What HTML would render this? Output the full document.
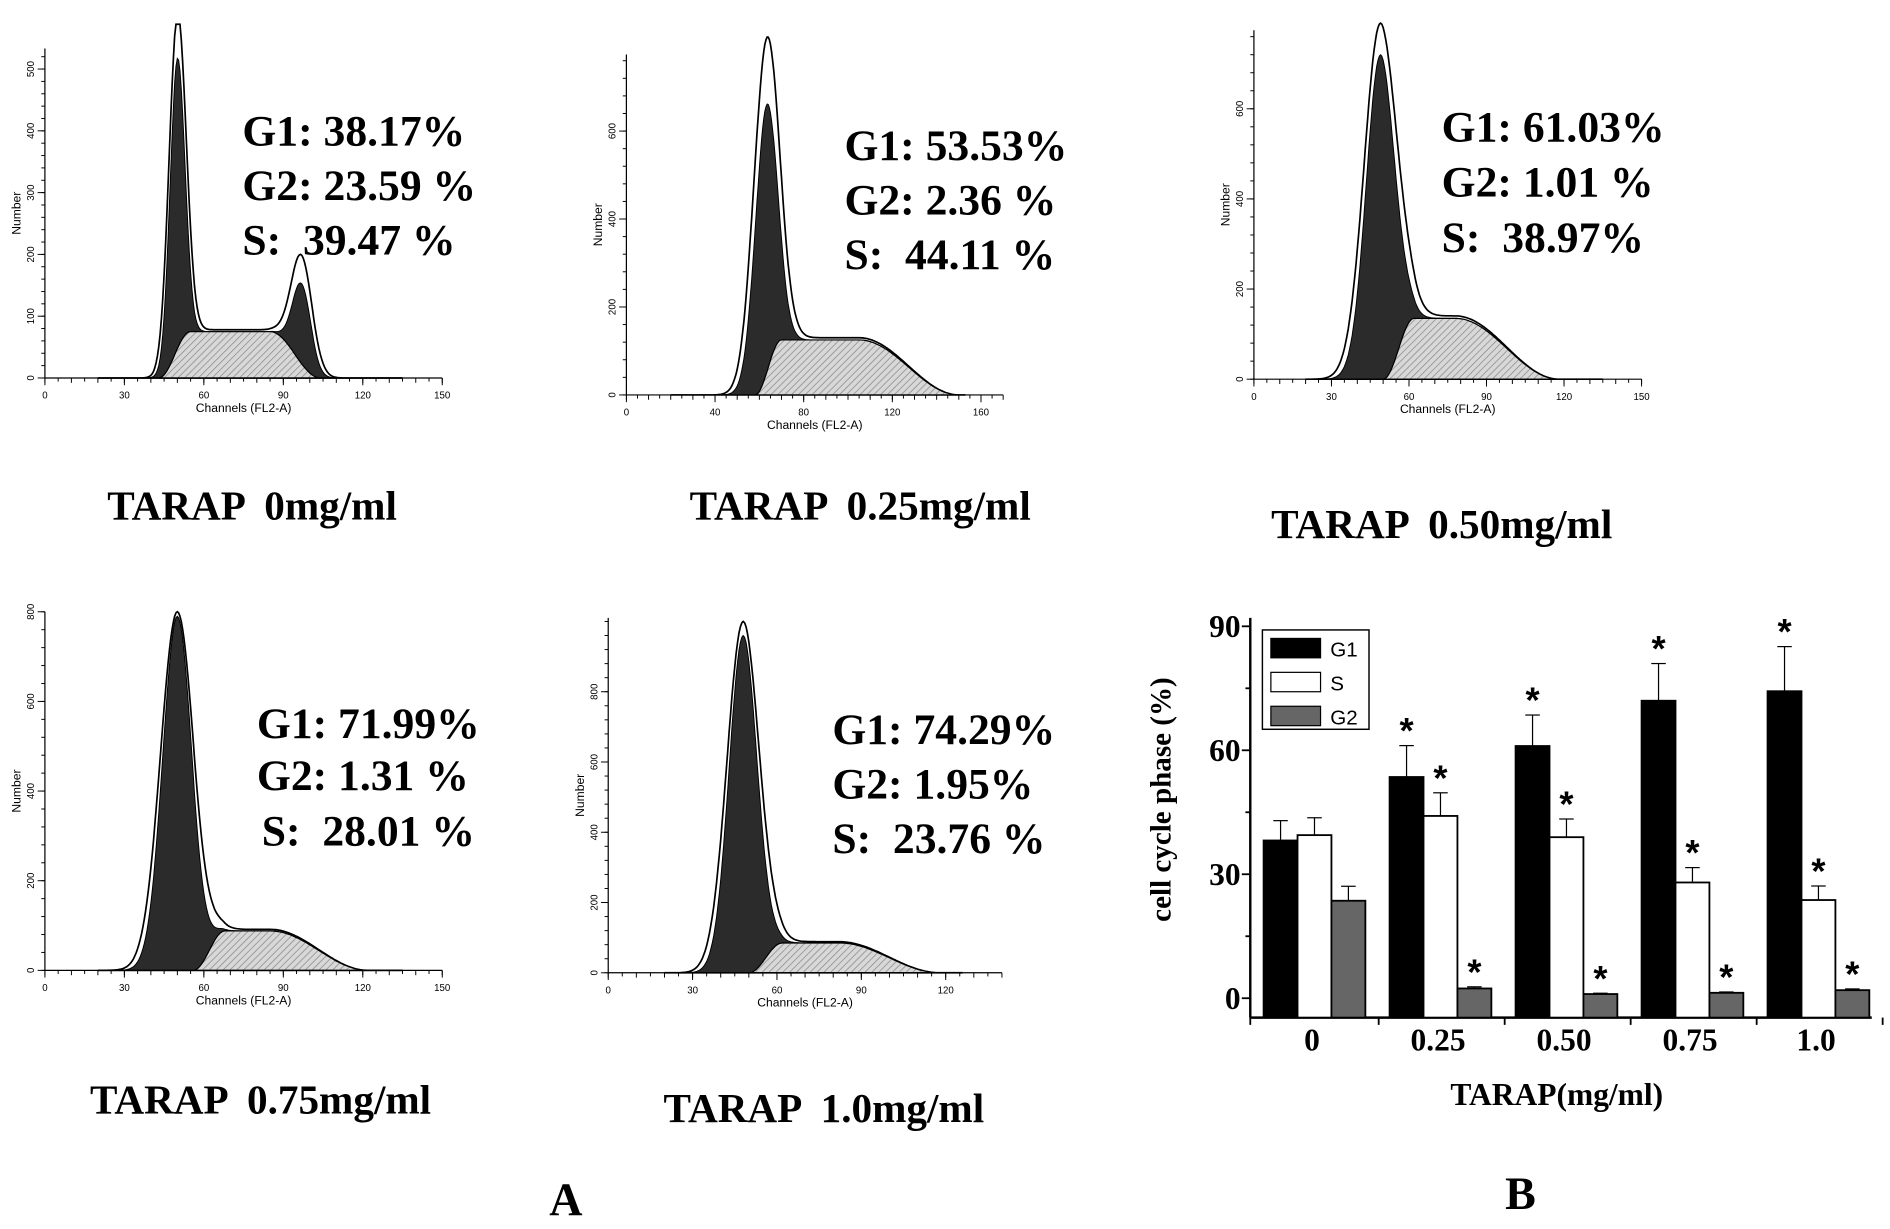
<!DOCTYPE html>
<html><head><meta charset="utf-8"><style>
html,body{margin:0;padding:0;background:#fff;}
svg{display:block;}
text{font-family:"Liberation Serif",serif;white-space:pre;}
.sans{font-family:"Liberation Sans",sans-serif;}
</style></head><body>
<svg id="fig" width="1890" height="1229" viewBox="0 0 1560 1014.5">
<defs>
<pattern id="hatch" patternUnits="userSpaceOnUse" width="4" height="4" patternTransform="rotate(45)">
<rect width="4" height="4" fill="#d8d8d8"/><line x1="0" y1="0" x2="0" y2="4" stroke="#888" stroke-width="1.2"/>
</pattern>
</defs>
<g id="hists"></g>
<g id="bars"></g>
<text x="467" y="1003" font-size="38" font-weight="bold" text-anchor="middle">A</text>
<text x="1255" y="998" font-size="38" font-weight="bold" text-anchor="middle">B</text>
</svg>
<script>
const NS='http://www.w3.org/2000/svg';
function mk(tag,attrs,parent,txt){const e=document.createElementNS(NS,tag);for(const k in attrs)e.setAttribute(k,attrs[k]);if(txt!==undefined)e.textContent=txt;parent.appendChild(e);return e;}

// ---------- Bar chart data ----------
const doses=['0','0.25','0.50','0.75','1.0'];
const g1Vals=[38.17,53.53,61.03,71.99,74.29];
const sVals=[39.47,44.11,38.97,28.01,23.76];
const g2Vals=[23.59,2.36,1.01,1.31,1.95];
const g1Err=[4.8,7.6,7.5,9.0,10.8];
const sErr=[4.2,5.6,4.4,3.6,3.4];
const g2Err=[3.5,0.4,0.2,0.2,0.3];
const g1Sig=[false,true,true,true,true];
const sSig=[false,true,true,true,true];
const g2Sig=[false,true,true,true,true];
const yTicks=[0,30,60,90];

// ---------- Histogram panel data ----------
const panelCaptions=['TARAP  0mg/ml','TARAP  0.25mg/ml','TARAP  0.50mg/ml','TARAP  0.75mg/ml','TARAP  1.0mg/ml'];
const panelG1Text=['G1: 38.17%','G1: 53.53%','G1: 61.03%','G1: 71.99%','G1: 74.29%'];
const panelG2Text=['G2: 23.59 %','G2: 2.36 %','G2: 1.01 %','G2: 1.31 %','G2: 1.95%'];
const panelSText=['S:  39.47 %','S:  44.11 %','S:  38.97%','S:  28.01 %','S:  23.76 %'];
const xTickSets=[[0,30,60,90,120,150],[0,40,80,120,160],[0,30,60,90,120,150],[0,30,60,90,120,150],[0,30,60,90,120]];
const yTickSets=[[0,100,200,300,400,500],[0,200,400,600],[0,200,400,600],[0,200,400,600,800],[0,200,400,600,800]];
const g1Center=[50,63,49,50,48];
const g1Height=[470,610,720,790,960];
const g1Outline=[540,760,790,800,1000];
const g1Width=[2.8,5,5.5,5.5,5];
const sHeight=[75,125,135,88,85];
const sStart=[55,70,62,68,62];
const sEnd=[85,105,78,85,82];
const sFall=[104,150,118,122,118];
const g2Center=[97,0,0,0,0];
const g2Height=[130,0,0,0,0];
const g2Outline=[175,0,0,0,0];
// layout (not data)
const layout=[
 {x0:37,x1:365,xmax:150,by:312,top:40,ppc:0.51,tx:200,ty:[108,153,198],cx:208,cy:418},
 {x0:517,x1:828,xmax:170,by:326,top:45,ppc:0.363,tx:697,ty:[120,165,210],cx:710,cy:418},
 {x0:1035,x1:1355,xmax:150,by:313,top:25,ppc:0.372,tx:1190,ty:[105,150,196],cx:1190,cy:433},
 {x0:37,x1:365,xmax:150,by:801,top:505,ppc:0.37,tx:212,ty:[597,640,686],cx:215,cy:908},
 {x0:502,x1:827,xmax:140,by:803,top:510,ppc:0.29,tx:687,ty:[602,647,692],cx:680,cy:915}
];

function sCurve(i,c){const a=sStart[i]-12,b=sStart[i],e=sEnd[i],f=sFall[i],h=sHeight[i];
 if(c<=a||c>=f)return 0; if(c<b)return h*(0.5-0.5*Math.cos(Math.PI*(c-a)/(b-a)));
 if(c<=e)return h; return h*(0.5+0.5*Math.cos(Math.PI*(c-e)/(f-e)));}
function gauss(c,m,h,w){return h?h*Math.exp(-0.5*((c-m)/w)**2):0;}

const H=document.getElementById('hists');
layout.forEach((L,i)=>{
 const g=mk('g',{},H);
 
 
 const xs=c=>L.x0+(c/L.xmax)*(L.x1-L.x0);
 const ys=v=>L.by-v*L.ppc;
 const chans=[];for(let c=20;c<=L.xmax*0.9;c+=0.5)chans.push(c);
 const path=f=>{let d='M'+xs(chans[0])+','+L.by;chans.forEach(c=>{d+=' L'+xs(c).toFixed(1)+','+Math.max(ys(f(c)),L.top-20).toFixed(1);});return d+' L'+xs(chans[chans.length-1])+','+L.by+'Z';};
 const outline=mk('path',{d:path(c=>sCurve(i,c)*1.04+gauss(c,g1Center[i],g1Outline[i],g1Width[i]*1.15)+gauss(c,g2Center[i],g2Outline[i],4)),fill:'#fff',stroke:'#000','stroke-width':1.4},g);
 
 
 const dark=mk('path',{d:path(c=>gauss(c,g1Center[i],g1Height[i],g1Width[i])+gauss(c,g2Center[i],g2Height[i],3.5)+sCurve(i,c)),fill:'#2b2b2b',stroke:'#000','stroke-width':0.8},g);
 
 
 const sp=mk('path',{d:path(c=>sCurve(i,c)),fill:'url(#hatch)',stroke:'#000','stroke-width':1},g);
 
 
 mk('line',{x1:L.x0,y1:L.top,x2:L.x0,y2:L.by,stroke:'#000','stroke-width':1},g);
 mk('line',{x1:L.x0,y1:L.by,x2:L.x1,y2:L.by,stroke:'#000','stroke-width':1},g);
 for(let c=0;c<=L.xmax;c+=5){const x=xs(c);mk('line',{x1:x,y1:L.by,x2:x,y2:L.by+(c%10===0?4:3),stroke:'#000','stroke-width':0.8},g);}
 xTickSets[i].forEach(t=>{const x=xs(t);mk('line',{x1:x,y1:L.by,x2:x,y2:L.by+6,stroke:'#000','stroke-width':0.8},g);
  const tl=mk('text',{x:x,y:L.by+17,'font-size':8,'text-anchor':'middle',class:'sans'},g,t);
  
  });
 const ymaxC=(L.by-L.top)/L.ppc;
 for(let v=0;v<=ymaxC;v+=yTickSets[i][1]/5){mk('line',{x1:L.x0-3,y1:ys(v),x2:L.x0,y2:ys(v),stroke:'#000','stroke-width':0.8},g);}
 yTickSets[i].forEach(t=>{const y=ys(t);mk('line',{x1:L.x0-6,y1:y,x2:L.x0,y2:y,stroke:'#000','stroke-width':0.8},g);
  const tl=mk('text',{x:L.x0-9,y:y,'font-size':8,'text-anchor':'middle',class:'sans',transform:`rotate(-90 ${L.x0-9} ${y})`},g,t);
  
  });
 const yl=mk('text',{x:L.x0-20,y:(L.top+L.by)/2,'font-size':10,'text-anchor':'middle',class:'sans',transform:`rotate(-90 ${L.x0-20} ${(L.top+L.by)/2})`},g,'Number');
 
 
 const xl=mk('text',{x:xs(L.xmax*0.5),y:L.by+28,'font-size':10,'text-anchor':'middle',class:'sans'},g,'Channels (FL2-A)');
 
 
 [panelG1Text[i],panelG2Text[i],panelSText[i]].forEach((s,k)=>{
  const t=mk('text',{x:L.tx+(i===3&&k===2?4:0),y:L.ty[k]+12,'font-size':36,'font-weight':'bold'},g,s);
  
  });
 const cap=mk('text',{x:L.cx,y:L.cy+11,'font-size':34,'font-weight':'bold','text-anchor':'middle'},g,panelCaptions[i]);
 
 
});

// ---------- Bar chart ----------
const B=document.getElementById('bars');
const ax={x0:1032,x1:1545,y0:840,yz:824,ppu:(824-517)/90,gw:104,g0:1043,bw:28};
const yb=v=>ax.yz-v*ax.ppu;
mk('line',{x1:ax.x0,y1:510,x2:ax.x0,y2:ax.y0,stroke:'#000','stroke-width':2},B);
mk('line',{x1:ax.x0,y1:ax.y0,x2:ax.x1,y2:ax.y0,stroke:'#000','stroke-width':2},B);
for(let v=0;v<=90;v+=15){mk('line',{x1:ax.x0-(v%30?4:7),y1:yb(v),x2:ax.x0,y2:yb(v),stroke:'#000','stroke-width':1.5},B);}
yTicks.forEach(v=>{const t=mk('text',{x:ax.x0-8,y:yb(v)+9,'font-size':26,'font-weight':'bold','text-anchor':'end'},B,v);
 
 });
for(let k=0;k<=doses.length;k++){const x=ax.x0+k*ax.gw+(k?2:0);mk('line',{x1:x,y1:ax.y0,x2:x,y2:ax.y0+6,stroke:'#000','stroke-width':1.5},B);}
const series=[[g1Vals,g1Err,g1Sig,'#000'],[sVals,sErr,sSig,'#fff'],[g2Vals,g2Err,g2Sig,'#666']];
const names=['g1','s','g2'];
doses.forEach((d,i)=>{
 series.forEach((s,j)=>{
  const x=ax.g0+i*ax.gw+j*ax.bw, v=s[0][i], e=s[1][i];
  const r=mk('rect',{x:x,y:yb(v),width:ax.bw,height:ax.y0-yb(v),fill:s[3],stroke:'#000','stroke-width':1.5},B);
  
  
  const cx=x+ax.bw/2;
  mk('line',{x1:cx,y1:yb(v),x2:cx,y2:yb(v+e),stroke:'#000','stroke-width':1},B);
  mk('line',{x1:cx-6,y1:yb(v+e),x2:cx+6,y2:yb(v+e),stroke:'#000','stroke-width':1},B);
  if(s[2][i]){const st=mk('text',{x:cx,y:yb(v+e)-2,'font-size':30,'font-weight':'bold','text-anchor':'middle',class:'sans'},B,'*');
   
   }
 });
 const t=mk('text',{x:ax.g0+i*ax.gw+40,y:867,'font-size':26,'font-weight':'bold','text-anchor':'middle'},B,d);
 
 
});
const yt=mk('text',{x:966,y:660,'font-size':24,'font-weight':'bold','text-anchor':'middle',transform:'rotate(-90 966 660)'},B,'cell cycle phase (%)');


const xt=mk('text',{x:1285,y:912,'font-size':26,'font-weight':'bold','text-anchor':'middle'},B,'TARAP(mg/ml)');


const lg=mk('g',{},B);


mk('rect',{x:1042,y:520,width:88,height:82,fill:'#fff',stroke:'#000','stroke-width':1.2},lg);
[['G1','#000'],['S','#fff'],['G2','#666']].forEach((p,k)=>{
 const y=527+k*28;
 const sw=mk('rect',{x:1049,y:y,width:41,height:16,fill:p[1],stroke:'#000','stroke-width':1},lg);
 
 
 const t=mk('text',{x:1098,y:y+15,'font-size':17,class:'sans'},lg,p[0]);
 
 
});
</script>
</body></html>
